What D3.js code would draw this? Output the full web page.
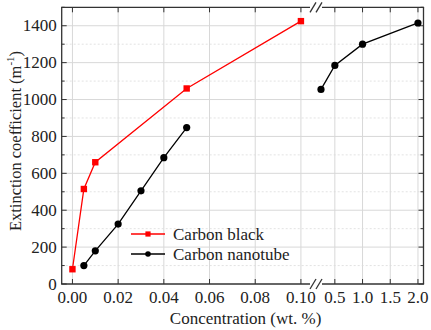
<!DOCTYPE html>
<html>
<head>
<meta charset="utf-8">
<script src="https://cdn.jsdelivr.net/npm/d3@7/dist/d3.min.js"></script>
<style>
  body { margin: 0; background: #fff; }
  svg text { font-family: "Liberation Serif", "Times New Roman", serif; fill: #222; }
</style>
</head>
<body>
<svg id="chart" width="431" height="330"></svg>
<script>
// Extinction coefficient vs. concentration
const blackConc = [0.00, 0.005, 0.01, 0.05, 0.10];
const blackExt  = [80, 515, 660, 1060, 1425];

const tubeConc = [0.005, 0.01, 0.02, 0.03, 0.04, 0.05, 0.25, 0.5, 1.0, 2.0];
const tubeExt  = [100, 180, 325, 505, 685, 848, 1055, 1185, 1300, 1415];

const xTicksLow  = [0.00, 0.02, 0.04, 0.06, 0.08, 0.10];
const xTicksHigh = [0.5, 1.0, 1.5, 2.0];
const yTicks = [0, 200, 400, 600, 800, 1000, 1200, 1400];
const yMinor = [100, 300, 500, 700, 900, 1100, 1300, 1500];

const seriesNames = ["Carbon black", "Carbon nanotube"];
const seriesColors = ["#ff0000", "#000000"];

const svg = d3.select("#chart");
const pLeft = 61.7, pRight = 423.5, pTop = 7.3, pBottom = 284;
const brk = 316;

// Broken x axis: two linear pieces joined at the break
const x = d3.scaleLinear()
  .domain([-0.0047, 0.1066, 0.16, 2.1])
  .range([pLeft, brk, brk, pRight]);
const y = d3.scaleLinear().domain([0, 1500]).range([pBottom, pTop]);

const xTicks = xTicksLow.concat(xTicksHigh);

// grid
const grid = svg.append("g");
grid.selectAll(".gv").data(xTicks).join("line")
  .attr("x1", d => x(d)).attr("x2", d => x(d))
  .attr("y1", pTop).attr("y2", pBottom)
  .attr("stroke", "#d8d8d8").attr("stroke-width", 1);
grid.selectAll(".gh").data(yTicks.slice(1)).join("line")
  .attr("x1", pLeft).attr("x2", pRight)
  .attr("y1", d => y(d)).attr("y2", d => y(d))
  .attr("stroke", "#d8d8d8").attr("stroke-width", 1);
grid.selectAll(".gm").data(yMinor.slice(0, -1)).join("line")
  .attr("x1", pLeft).attr("x2", pRight)
  .attr("y1", d => y(d)).attr("y2", d => y(d))
  .attr("stroke", "#dcdcdc").attr("stroke-width", 0.8)
  .attr("stroke-dasharray", "2,2");

// frame
const frame = svg.append("g").attr("stroke", "#333").attr("stroke-width", 1.3).attr("fill", "none");
frame.append("line").attr("x1", pLeft).attr("x2", pLeft).attr("y1", pTop).attr("y2", pBottom);
frame.append("line").attr("x1", pRight).attr("x2", pRight).attr("y1", pTop).attr("y2", pBottom);
[pTop, pBottom].forEach(yy => {
  frame.append("line").attr("x1", pLeft - 0.6).attr("x2", brk - 6).attr("y1", yy).attr("y2", yy);
  frame.append("line").attr("x1", brk + 6).attr("x2", pRight + 0.6).attr("y1", yy).attr("y2", yy);
  // break marks
  [-3, 3].forEach(o => {
    frame.append("line")
      .attr("x1", brk + o - 3).attr("y1", yy + 5)
      .attr("x2", brk + o + 3).attr("y2", yy - 5);
  });
});

// ticks (inward)
const ticks = svg.append("g").attr("stroke", "#333").attr("stroke-width", 1);
ticks.selectAll(".tb").data(xTicks).join("line")
  .attr("x1", d => x(d)).attr("x2", d => x(d))
  .attr("y1", pBottom).attr("y2", pBottom - 5);
ticks.selectAll(".tt").data(xTicks).join("line")
  .attr("x1", d => x(d)).attr("x2", d => x(d))
  .attr("y1", pTop).attr("y2", pTop + 5);
ticks.selectAll(".tl").data(yTicks).join("line")
  .attr("x1", pLeft).attr("x2", pLeft + 5)
  .attr("y1", d => y(d)).attr("y2", d => y(d));
ticks.selectAll(".tlm").data(yMinor).join("line")
  .attr("x1", pLeft).attr("x2", pLeft + 3)
  .attr("y1", d => y(d)).attr("y2", d => y(d));
ticks.selectAll(".tr").data(yTicks).join("line")
  .attr("x1", pRight).attr("x2", pRight - 5)
  .attr("y1", d => y(d)).attr("y2", d => y(d));
ticks.selectAll(".trm").data(yMinor).join("line")
  .attr("x1", pRight).attr("x2", pRight - 3)
  .attr("y1", d => y(d)).attr("y2", d => y(d));

// tick labels
const fs = 17;
svg.append("g").selectAll("text").data(xTicksLow).join("text")
  .attr("x", d => x(d)).attr("y", pBottom + 19)
  .attr("text-anchor", "middle").attr("font-size", fs)
  .text(d => d3.format(".2f")(d));
svg.append("g").selectAll("text").data(xTicksHigh).join("text")
  .attr("x", d => x(d)).attr("y", pBottom + 19)
  .attr("text-anchor", "middle").attr("font-size", fs)
  .text(d => d3.format(".1f")(d));
svg.append("g").selectAll("text").data(yTicks).join("text")
  .attr("x", pLeft - 5).attr("y", d => y(d) + 5.5)
  .attr("text-anchor", "end").attr("font-size", fs)
  .text(d => d);

// axis titles
svg.append("text").attr("x", (pLeft + pRight) / 2 + 3).attr("y", 324)
  .attr("text-anchor", "middle").attr("font-size", fs)
  .text("Concentration (wt. %)");
const yt = svg.append("text")
  .attr("transform", "translate(21,141) rotate(-90)")
  .attr("text-anchor", "middle").attr("font-size", 16.5);
yt.append("tspan").text("Extinction coefficient (m");
yt.append("tspan").attr("font-size", 11).attr("dy", -7).text("-1");
yt.append("tspan").attr("dy", 7).text(")");

// series
const line = d3.line().x(d => x(d[0])).y(d => y(d[1]));
const blackPts = blackConc.map((c, i) => [c, blackExt[i]]);
const tubePts = tubeConc.map((c, i) => [c, tubeExt[i]]);
const tubeLow = tubePts.filter(d => d[0] <= 0.1);
const tubeHigh = tubePts.filter(d => d[0] > 0.1);

svg.append("path").datum(blackPts).attr("d", line)
  .attr("fill", "none").attr("stroke", seriesColors[0]).attr("stroke-width", 1.3);
[tubeLow, tubeHigh].forEach(seg => {
  svg.append("path").datum(seg).attr("d", line)
    .attr("fill", "none").attr("stroke", seriesColors[1]).attr("stroke-width", 1.3);
});
svg.append("g").selectAll("rect").data(blackPts).join("rect")
  .attr("x", d => x(d[0]) - 3.2).attr("y", d => y(d[1]) - 3.2)
  .attr("width", 6.4).attr("height", 6.4).attr("fill", seriesColors[0]);
svg.append("g").selectAll("circle").data(tubePts).join("circle")
  .attr("cx", d => x(d[0])).attr("cy", d => y(d[1])).attr("r", 3.6)
  .attr("fill", seriesColors[1]);

// legend
const lg = svg.append("g");
seriesNames.forEach((name, i) => {
  const ly = 234 + i * 20;
  lg.append("line").attr("x1", 131).attr("x2", 165).attr("y1", ly).attr("y2", ly)
    .attr("stroke", seriesColors[i]).attr("stroke-width", 1.3);
  if (i === 0) {
    lg.append("rect").attr("x", 148 - 2.6).attr("y", ly - 2.6).attr("width", 5.2).attr("height", 5.2)
      .attr("fill", seriesColors[i]);
  } else {
    lg.append("circle").attr("cx", 148).attr("cy", ly).attr("r", 2.8).attr("fill", seriesColors[i]);
  }
  lg.append("text").attr("x", 173).attr("y", ly + 5.5).attr("font-size", fs).text(name);
});
</script>
</body>
</html>
